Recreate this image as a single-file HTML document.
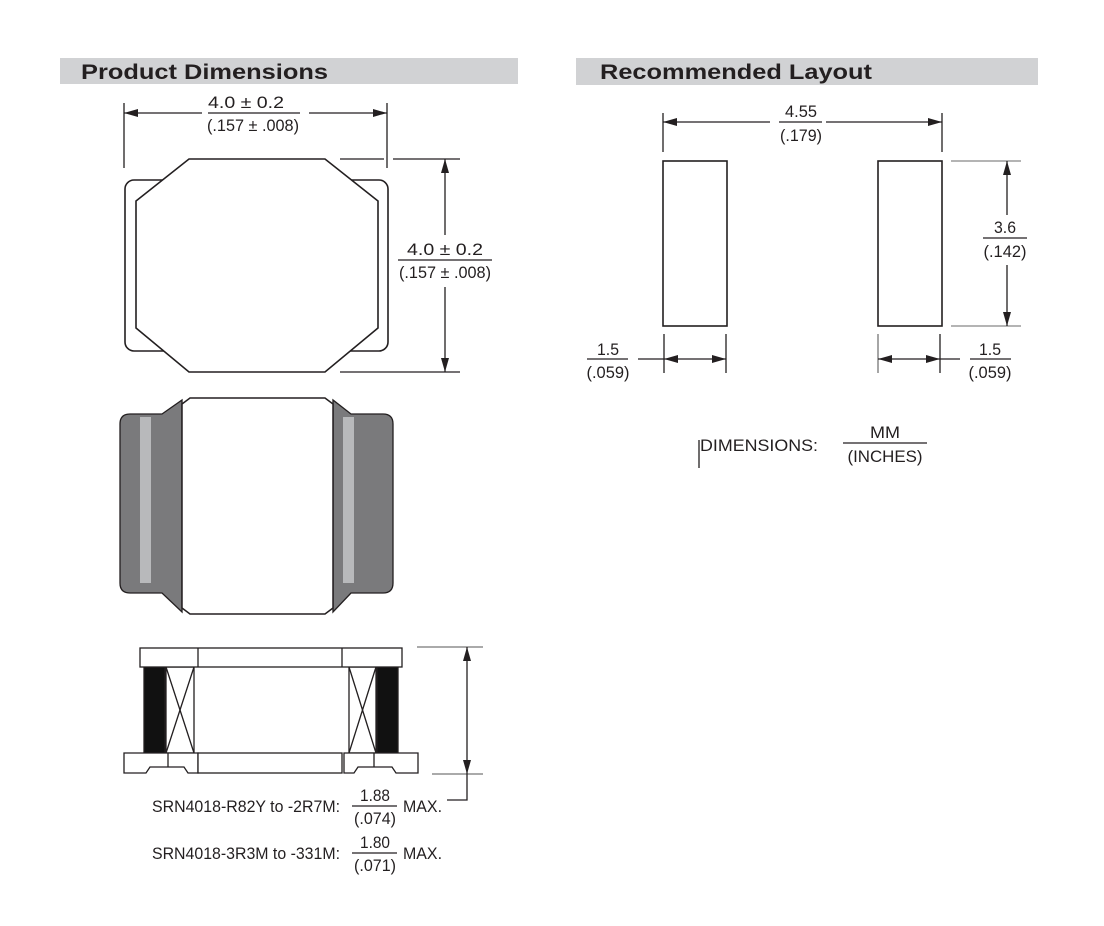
<!DOCTYPE html>
<html><head><meta charset="utf-8"><style>
html,body{margin:0;padding:0;background:#fff;}
svg{display:block}
text{font-family:"Liberation Sans",sans-serif;font-size:17px;fill:#231f20}
.h{font-family:"Liberation Sans",sans-serif;font-weight:bold;font-size:21px;fill:#231f20}
</style></head><body>
<svg width="1104" height="926" viewBox="0 0 1104 926" xmlns="http://www.w3.org/2000/svg">
<defs>
<marker id="a" viewBox="0 0 14 8" refX="14" refY="4" markerWidth="14" markerHeight="8" markerUnits="userSpaceOnUse" orient="auto-start-reverse"><path d="M0,0 L14,4 L0,8 Z" fill="#231f20"/></marker>
</defs>
<!-- headers -->
<rect x="60" y="58" width="458" height="26" fill="#d1d2d4"/>
<text class="h" x="81" y="79" textLength="247" lengthAdjust="spacingAndGlyphs">Product Dimensions</text>
<rect x="576" y="58" width="462" height="27" fill="#d1d2d4"/>
<text class="h" x="600" y="79" textLength="272" lengthAdjust="spacingAndGlyphs">Recommended Layout</text>

<g stroke="#231f20" stroke-width="1.3" fill="none">
<!-- top view -->
<line x1="124" y1="103" x2="124" y2="168"/>
<line x1="387" y1="103" x2="387" y2="168"/>
<line x1="124" y1="113" x2="202" y2="113" marker-start="url(#a)"/>
<line x1="309" y1="113" x2="387" y2="113" marker-end="url(#a)"/>
<line x1="208" y1="113" x2="300" y2="113"/>
<rect x="125" y="180" width="263" height="171" rx="9" stroke-width="1.6"/>
<polygon points="189,159 325,159 378,201 378,328 325,372 189,372 136,328 136,201" fill="#fff" stroke-width="1.6"/>
<line x1="340" y1="159" x2="384" y2="159"/>
<line x1="393" y1="159" x2="460" y2="159"/>
<line x1="340" y1="372" x2="460" y2="372"/>
<line x1="445" y1="159" x2="445" y2="235" marker-start="url(#a)"/>
<line x1="445" y1="287" x2="445" y2="372" marker-end="url(#a)"/>
<line x1="398" y1="260" x2="492" y2="260"/>
</g>
<text x="246" y="108" text-anchor="middle" textLength="76" lengthAdjust="spacingAndGlyphs">4.0 ± 0.2</text>
<text x="253" y="131" text-anchor="middle" textLength="92" lengthAdjust="spacingAndGlyphs">(.157 ± .008)</text>
<text x="445" y="255" text-anchor="middle" textLength="76" lengthAdjust="spacingAndGlyphs">4.0 ± 0.2</text>
<text x="445" y="278" text-anchor="middle" textLength="92" lengthAdjust="spacingAndGlyphs">(.157 ± .008)</text>

<!-- side view -->
<path d="M130,414 H162 L182,400 V612 L162,593 H130 Q120,593 120,583 V424 Q120,414 130,414 Z" fill="#7a7a7c" stroke="#231f20" stroke-width="1.3"/>
<path d="M383,414 H351 L333,400 V612 L351,593 H383 Q393,593 393,583 V424 Q393,414 383,414 Z" fill="#7a7a7c" stroke="#231f20" stroke-width="1.3"/>
<rect x="140" y="417" width="11" height="166" fill="#b8b9bb"/>
<rect x="343" y="417" width="11" height="166" fill="#b8b9bb"/>
<polygon points="190,398 325,398 333,404 333,608 325,614 190,614 182,608 182,404" fill="#fff" stroke="#231f20" stroke-width="1.5"/>

<!-- front view -->
<g stroke="#231f20" stroke-width="1.3" fill="none">
<rect x="144" y="667" width="21" height="86" fill="#111"/>
<rect x="377" y="667" width="21" height="86" fill="#111"/>
<rect x="166" y="667" width="28" height="86"/>
<line x1="166" y1="667" x2="194" y2="753"/><line x1="194" y1="667" x2="166" y2="753"/>
<rect x="349" y="667" width="27" height="86"/>
<line x1="349" y1="667" x2="376" y2="753"/><line x1="376" y1="667" x2="349" y2="753"/>
<rect x="140" y="648" width="262" height="19" fill="#fff"/>
<line x1="198" y1="648" x2="198" y2="667"/><line x1="342" y1="648" x2="342" y2="667"/>
<path d="M198,753 H124 V773 H146 L150,767 H184 L188,773 H198 Z" fill="#fff"/>
<line x1="168" y1="753" x2="168" y2="767"/>
<path d="M344,753 H418 V773 H396 L392,767 H358 L354,773 H344 Z" fill="#fff"/>
<line x1="374" y1="753" x2="374" y2="767"/>
<rect x="198" y="753" width="144" height="20" fill="#fff"/>
<line x1="417" y1="647" x2="483" y2="647" stroke="#777"/>
<line x1="432" y1="774" x2="483" y2="774" stroke="#777"/>
<line x1="467" y1="647" x2="467" y2="774" marker-start="url(#a)" marker-end="url(#a)"/>
<polyline points="467,774 467,800 447,800"/>
<line x1="352" y1="806" x2="397" y2="806"/>
<line x1="352" y1="853" x2="397" y2="853"/>
</g>
<text x="152" y="812" textLength="188" lengthAdjust="spacingAndGlyphs">SRN4018-R82Y to -2R7M:</text>
<text x="375" y="801" text-anchor="middle" textLength="30" lengthAdjust="spacingAndGlyphs">1.88</text>
<text x="375" y="824" text-anchor="middle" textLength="42" lengthAdjust="spacingAndGlyphs">(.074)</text>
<text x="403" y="812" textLength="39" lengthAdjust="spacingAndGlyphs">MAX.</text>
<text x="152" y="859" textLength="188" lengthAdjust="spacingAndGlyphs">SRN4018-3R3M to -331M:</text>
<text x="375" y="848" text-anchor="middle" textLength="30" lengthAdjust="spacingAndGlyphs">1.80</text>
<text x="375" y="871" text-anchor="middle" textLength="42" lengthAdjust="spacingAndGlyphs">(.071)</text>
<text x="403" y="859" textLength="39" lengthAdjust="spacingAndGlyphs">MAX.</text>

<!-- layout -->
<g stroke="#231f20" stroke-width="1.3" fill="none">
<rect x="663" y="161" width="64" height="165" stroke-width="1.6"/>
<rect x="878" y="161" width="64" height="165" stroke-width="1.6"/>
<line x1="663" y1="113" x2="663" y2="152"/>
<line x1="942" y1="113" x2="942" y2="152"/>
<line x1="663" y1="122" x2="770" y2="122" marker-start="url(#a)"/>
<line x1="826" y1="122" x2="942" y2="122" marker-end="url(#a)"/>
<line x1="779" y1="122" x2="822" y2="122"/>
<line x1="951" y1="161" x2="1021" y2="161" stroke="#888"/>
<line x1="951" y1="326" x2="1021" y2="326" stroke="#888"/>
<line x1="1007" y1="161" x2="1007" y2="215" marker-start="url(#a)"/>
<line x1="1007" y1="265" x2="1007" y2="326" marker-end="url(#a)"/>
<line x1="983" y1="238" x2="1027" y2="238"/>
<line x1="664" y1="334" x2="664" y2="373"/>
<line x1="726" y1="334" x2="726" y2="373"/>
<line x1="638" y1="359" x2="664" y2="359"/>
<line x1="664" y1="359" x2="726" y2="359" marker-start="url(#a)" marker-end="url(#a)"/>
<line x1="587" y1="359" x2="628" y2="359"/>
<line x1="878" y1="334" x2="878" y2="373" stroke="#777"/>
<line x1="940" y1="334" x2="940" y2="373"/>
<line x1="878" y1="359" x2="940" y2="359" marker-start="url(#a)" marker-end="url(#a)"/>
<line x1="940" y1="359" x2="960" y2="359"/>
<line x1="970" y1="359" x2="1011" y2="359"/>
<line x1="699" y1="440" x2="699" y2="468"/>
<line x1="843" y1="443" x2="927" y2="443"/>
</g>
<text x="801" y="117" text-anchor="middle" textLength="32" lengthAdjust="spacingAndGlyphs">4.55</text>
<text x="801" y="141" text-anchor="middle" textLength="42" lengthAdjust="spacingAndGlyphs">(.179)</text>
<text x="1005" y="233" text-anchor="middle" textLength="22" lengthAdjust="spacingAndGlyphs">3.6</text>
<text x="1005" y="257" text-anchor="middle" textLength="43" lengthAdjust="spacingAndGlyphs">(.142)</text>
<text x="608" y="355" text-anchor="middle" textLength="22" lengthAdjust="spacingAndGlyphs">1.5</text>
<text x="608" y="378" text-anchor="middle" textLength="43" lengthAdjust="spacingAndGlyphs">(.059)</text>
<text x="990" y="355" text-anchor="middle" textLength="22" lengthAdjust="spacingAndGlyphs">1.5</text>
<text x="990" y="378" text-anchor="middle" textLength="43" lengthAdjust="spacingAndGlyphs">(.059)</text>
<text x="700" y="451" textLength="118" lengthAdjust="spacingAndGlyphs">DIMENSIONS:</text>
<text x="885" y="438" text-anchor="middle" textLength="30" lengthAdjust="spacingAndGlyphs">MM</text>
<text x="885" y="462" text-anchor="middle" textLength="75" lengthAdjust="spacingAndGlyphs">(INCHES)</text>
</svg>
</body></html>
